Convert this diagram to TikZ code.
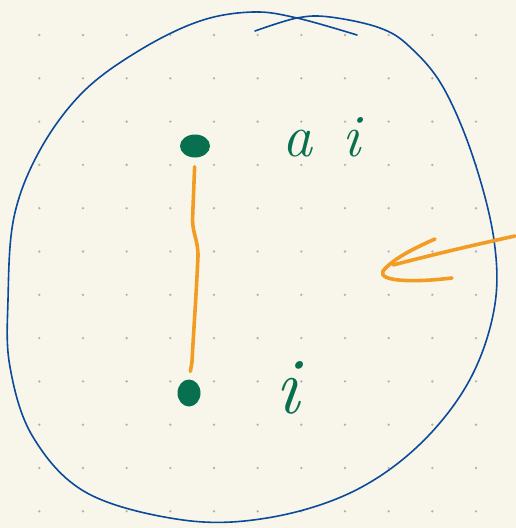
\documentclass[tikz,border=0pt]{standalone}
\usepackage{fontspec}
\usetikzlibrary{shapes.geometric}
\definecolor{paper}{HTML}{F8F6EA}
\definecolor{griddot}{HTML}{B4B2AA}
\definecolor{ink}{HTML}{0B4A9B}
\definecolor{leaf}{HTML}{08704F}
\definecolor{amber}{HTML}{F39C24}
\begin{document}
\begin{tikzpicture}[x=1pt,y=-1pt,
  vertex/.style={ellipse, fill=leaf, inner sep=0pt},
  lbl/.style={text=leaf, inner sep=0pt, anchor=base},
  pen/.style={amber, line width=3.6pt, line cap=round, line join=round}]
\fill[paper] (0,0) rectangle (516,528);
\useasboundingbox (0,0) rectangle (516,528);
% dotted paper
\foreach \i in {0,...,10}
  \foreach \j in {0,...,11}
    \fill[griddot] (39.3+43.67*\i, 35+43.3*\j) circle (1.3pt);
% the set
\draw[ink, line width=1.6pt, line cap=round] plot[smooth, tension=0.6] coordinates {
  (357,35) (297,18) (253,12) (200,21) (140,50) (83,92) (40,150) (14,217)
  (8,300) (10,367) (33,437) (87,493) (183,520) (267,518) (350,493) (417,447)
  (468,383) (494,310) (494,240) (473,157) (443,87) (410,47) (380,28)
  (330,17) (297,18) (255,31)};
% points and labels
\node[vertex, minimum width=30pt, minimum height=23pt] (top) at (195,146) {};
\node[vertex, minimum width=23pt, minimum height=27pt] (bottom) at (189,393) {};
\node[lbl, font=\fontsize{60}{60}\selectfont\itshape] (ai) at (321,156) {a\hspace{0.5em}i};
\node[lbl, font=\fontsize{80}{80}\selectfont\itshape] (i) at (287,413) {i};
\draw[pen, shorten <=9pt, shorten >=8pt] (top.south) -- (192.5,220)
  .. controls (193,235) and (198,240) .. (198,256)
  .. controls (196,300) and (193,340) .. (192,362) -- (bottom.north);
% arrow into the set
\coordinate (tail) at (515,236);
\coordinate (tip) at (383,271);
\draw[pen] (tail) .. controls (460,248) and (420,258) .. (393,265);
\draw[pen] (435,239) .. controls (410,250) and (392,260) .. (tip)
  .. controls (378,281) and (410,283) .. (452,278);
\end{tikzpicture}
\end{document}
